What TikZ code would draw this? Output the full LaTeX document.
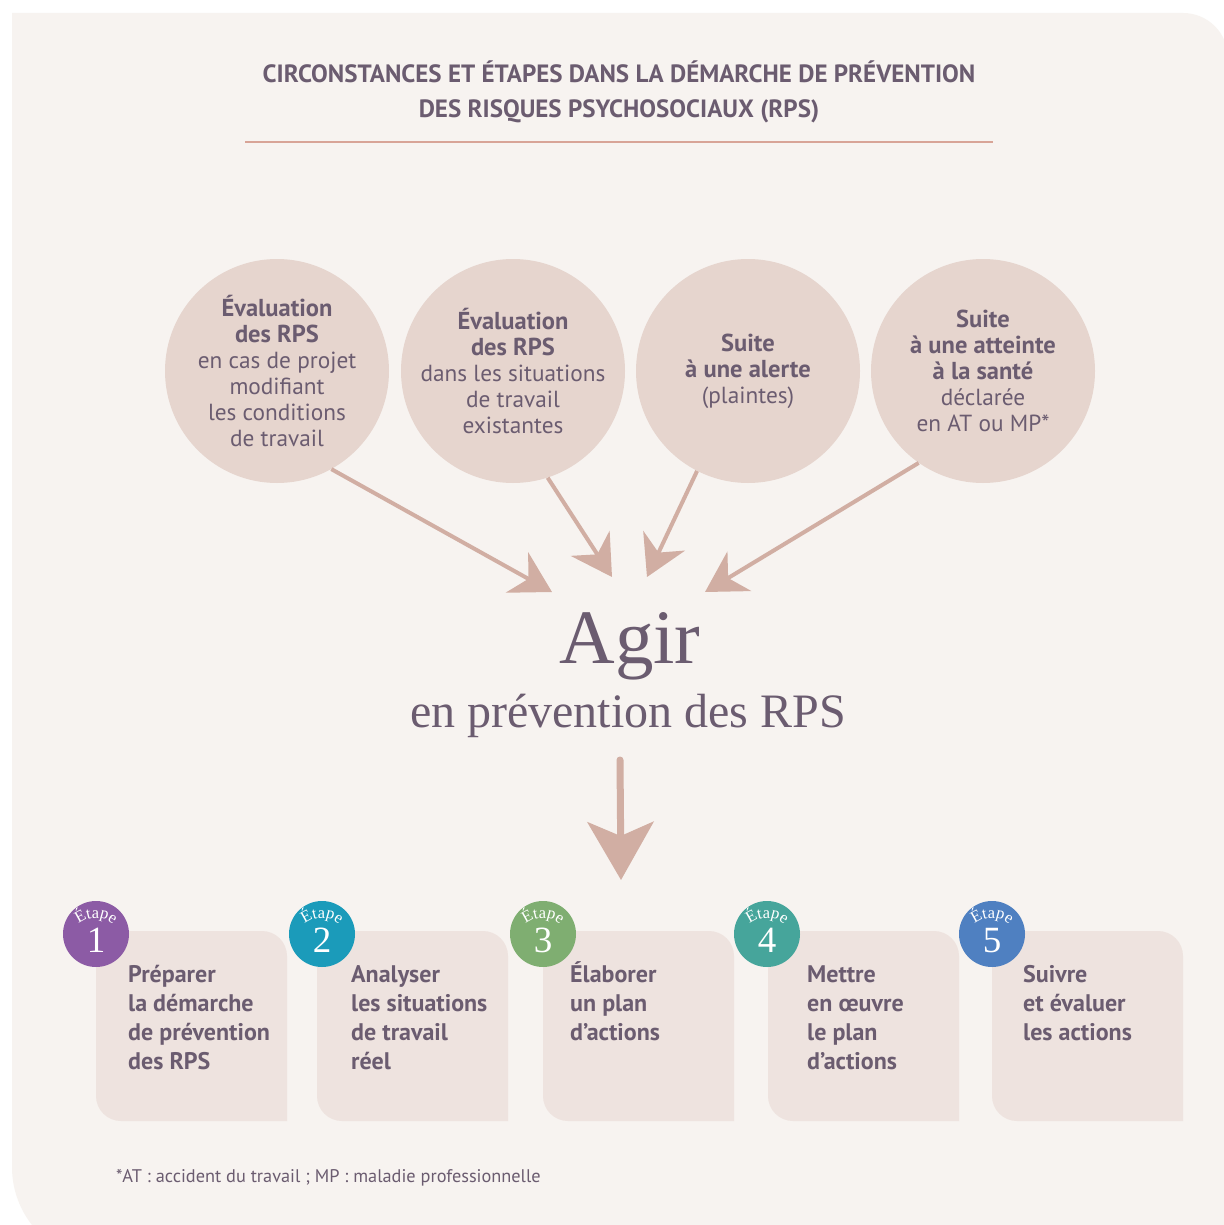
\documentclass[tikz,border=0pt]{standalone}
\usepackage{fontspec}
\setmainfont{PT Sans}
\newfontfamily\serifx{Liberation Serif}
\usetikzlibrary{arrows.meta,decorations.text,calc}
\definecolor{bgc}{HTML}{F7F3F0}
\definecolor{circc}{HTML}{E6D5CE}
\definecolor{boxc}{HTML}{EEE3DF}
\definecolor{txtc}{HTML}{6B5C70}
\definecolor{arrc}{HTML}{D1AEA3}
\definecolor{rulec}{HTML}{D8A497}
\definecolor{stepA}{HTML}{8C5BA5}
\definecolor{stepB}{HTML}{1B9BBA}
\definecolor{stepC}{HTML}{7FAE71}
\definecolor{stepD}{HTML}{46A59B}
\definecolor{stepE}{HTML}{4F80C1}
\newcommand{\B}[1]{{\fontsize{24.5}{26}\selectfont\bfseries #1}}
\tikzset{
  bigcirc/.style={circle, fill=circc, minimum size=224pt, inner sep=0pt, align=center,
    text=txtc, font=\fontsize{23.3}{26}\selectfont},
  arr/.style={draw=arrc, line width=4pt, -{Stealth[length=40pt,width=46pt,inset=13pt]}},
  stepcirc/.style={circle, minimum size=66pt, inner sep=0pt},
  stepnum/.style={text=white, font=\serifx\fontsize{37}{37}\selectfont, anchor=base, inner sep=0pt},
  steptext/.style={text=txtc, font=\bfseries\fontsize{24}{29}\selectfont, align=left, anchor=base west, inner sep=0pt},
}
\newcommand{\stepbox}[1]{%
  \fill[boxc] (#1,931) -- ({#1+166},931) arc[start angle=90,end angle=0,radius=25pt]
    -- ({#1+191},1121) -- ({#1+25},1121) arc[start angle=270,end angle=180,radius=25pt] -- cycle;}
\newcommand{\etape}[1]{%
  \path[decorate, decoration={text along path, text align=center, text color=white,
      text={|\serifx\fontsize{16.5}{16.5}\selectfont|Étape}}]
    ($(#1)+(0,11)+(140:27pt)$) arc[start angle=140, end angle=40, radius=27pt];}
\begin{document}
\begin{tikzpicture}[x=1pt,y=-1pt]
\useasboundingbox (0,0) rectangle (1223,1225);
\fill[white] (0,0) rectangle (1223,1225);
\fill[bgc] (12,13) -- (1183,13) arc[start angle=90, end angle=0, radius=45pt]
  -- (1228,1261) -- (106,1261) arc[start angle=270, end angle=180, radius=94pt] -- cycle;
% title (base anchor = last line)
\node[text=txtc, font=\bfseries\fontsize{25}{35}\selectfont, align=center, anchor=base] (title) at (619,118)
  {CIRCONSTANCES ET ÉTAPES DANS LA DÉMARCHE DE PRÉVENTION\\DES RISQUES PSYCHOSOCIAUX (RPS)};
\draw[rulec, line width=1.3pt] (245,142) -- (993,142);
% circles
\node[bigcirc] (c1) at (277,371) {\B{Évaluation}\\\B{des RPS}\\en cas de projet\\modifiant\\les conditions\\de travail};
\node[bigcirc] (c2) at (513,371) {\B{Évaluation}\\\B{des RPS}\\dans les situations\\de travail\\existantes};
\node[bigcirc] (c3) at (748,371) {\B{Suite}\\\B{à une alerte}\\(plaintes)};
\node[bigcirc] (c4) at (983,371) {\B{Suite}\\\B{à une atteinte}\\\B{à la santé}\\déclarée\\en AT ou MP*};
\coordinate (t1) at (552,592);
\coordinate (t2) at (612,577);
\coordinate (t3) at (647,577);
\coordinate (t4) at (705,592);
\draw[arr] (c1.-61) -- (t1);
\draw[arr] (c2.-72) -- (t2);
\draw[arr] (c3.-117) -- (t3);
\draw[arr] (c4.-125) -- (t4);
% central text
\node[text=txtc, font=\serifx\fontsize{77}{77}\selectfont, anchor=base, inner sep=0pt] (agir) at (630,663) {Agir};
\node[text=txtc, font=\serifx\fontsize{48}{48}\selectfont, anchor=base, inner sep=0pt] (prev) at (628,727) {en prévention des RPS};
\coordinate (dtop) at (620,760);
\coordinate (dtip) at (621,880);
\draw[draw=arrc, line width=7pt, line cap=round, -{Stealth[length=58pt,width=66pt,inset=14pt]}] (dtop) -- (dtip);
% steps
\stepbox{96}\stepbox{317}\stepbox{543}\stepbox{768}\stepbox{992}
\node[stepcirc, fill=stepA] (s1) at (96,934) {};
\node[stepcirc, fill=stepB] (s2) at (322,934) {};
\node[stepcirc, fill=stepC] (s3) at (543,934) {};
\node[stepcirc, fill=stepD] (s4) at (767,934) {};
\node[stepcirc, fill=stepE] (s5) at (992,934) {};
\etape{s1}\etape{s2}\etape{s3}\etape{s4}\etape{s5}
\node[stepnum] (n1) at (96,952) {1};
\node[stepnum] (n2) at (322,952) {2};
\node[stepnum] (n3) at (543,952) {3};
\node[stepnum] (n4) at (767,952) {4};
\node[stepnum] (n5) at (992,952) {5};
% step texts (base anchor = last line)
\node[steptext] (b1) at (128,1069) {Préparer\\la démarche\\de prévention\\des RPS};
\node[steptext] (b2) at (351,1069) {Analyser\\les situations\\de travail\\réel};
\node[steptext] (b3) at (570,1040) {Élaborer\\un plan\\d’actions};
\node[steptext] (b4) at (807,1069) {Mettre\\en œuvre\\le plan\\d’actions};
\node[steptext] (b5) at (1023,1040) {Suivre\\et évaluer\\les actions};
% footnote
\node[text=txtc, font=\fontsize{18.3}{20}\selectfont, anchor=base west, inner sep=0pt] (foot) at (116,1182)
  {*AT : accident du travail ; MP : maladie professionnelle};
\end{tikzpicture}
\end{document}
